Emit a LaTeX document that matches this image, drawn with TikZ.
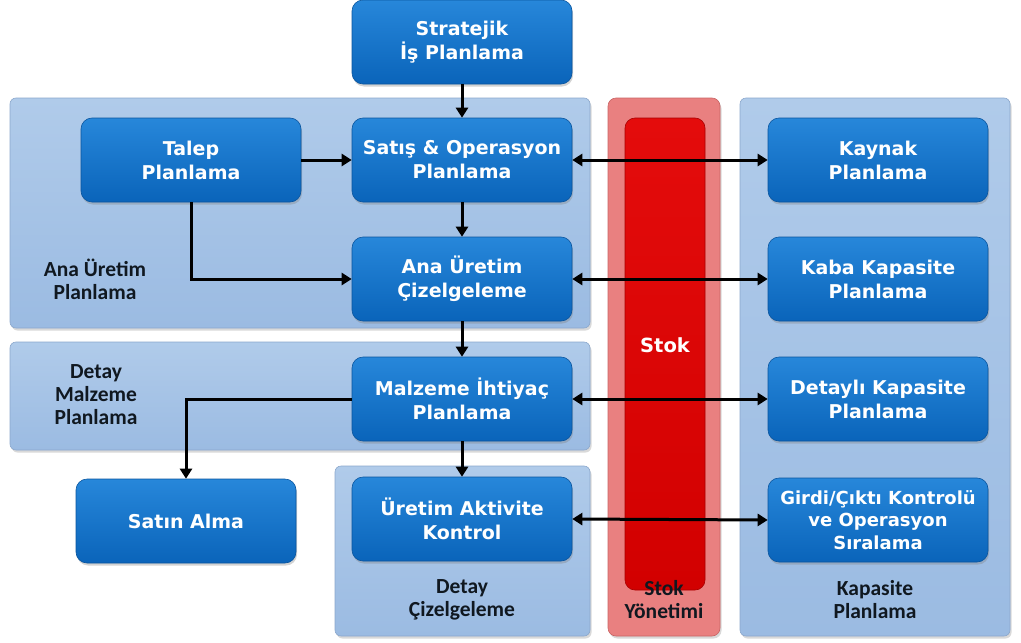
\documentclass[tikz,border=0pt]{standalone}
\usepackage{fontspec}
\setmainfont{DejaVu Sans}
\newfontfamily\lblfont{Carlito}
\usetikzlibrary{arrows.meta,shadows}

\definecolor{boxtop}{HTML}{2787DA}
\definecolor{boxbot}{HTML}{0A64BA}
\definecolor{boxedge}{HTML}{0A559E}
\definecolor{pantop}{HTML}{B0CBEA}
\definecolor{panbot}{HTML}{9BBBE2}
\definecolor{panedge}{HTML}{8BA7CC}
\definecolor{stokout}{HTML}{E98080}
\definecolor{stokedge}{HTML}{C86464}
\definecolor{stoktop}{HTML}{E40C0C}
\definecolor{stokbot}{HTML}{D20000}
\definecolor{lbltext}{HTML}{101820}

\begin{document}
\begin{tikzpicture}[x=1pt,y=-1pt,
  proc/.style={draw=boxedge, line width=0.6pt, rounded corners=11pt,
    top color=boxtop, bottom color=boxbot,
    minimum width=220pt, minimum height=84pt, align=center,
    text=white, font=\bfseries\fontsize{19}{24}\selectfont,
    drop shadow={shadow xshift=1pt, shadow yshift=-2.5pt, opacity=0.35}},
  panel/.style={draw=panedge, line width=0.6pt, rounded corners=6pt,
    top color=pantop, bottom color=panbot,
    drop shadow={shadow xshift=1.5pt, shadow yshift=-2.5pt, opacity=0.3}},
  grouplbl/.style={align=center, text=lbltext,
    font=\lblfont\bfseries\fontsize{21.5}{23}\selectfont},
  flow/.style={line width=3pt, -{Triangle[length=10pt,width=12pt]}},
  link/.style={line width=3pt, {Triangle[length=10pt,width=12pt]}-{Triangle[length=10pt,width=12pt]}}
]
\useasboundingbox (0,0) rectangle (1021,643);

% group panels
\path[panel] (10,98) rectangle (590,328);
\path[panel] (10,342) rectangle (590,450);
\path[panel] (335,466) rectangle (590,636);
\path[panel] (740,98) rectangle (1010,636);

% inventory column
\path[draw=stokedge, line width=0.6pt, fill=stokout, rounded corners=8pt,
  drop shadow={shadow xshift=1.5pt, shadow yshift=-2.5pt, opacity=0.3}]
  (608,98) rectangle (720,636);
\path[draw=stokbot!80!black, line width=0.6pt, top color=stoktop, bottom color=stokbot,
  rounded corners=10pt] (625,118) rectangle (705,590);
\node[text=white, font=\bfseries\fontsize{19.5}{22}\selectfont] (stok) at (665,345) {Stok};

% group labels
\node[grouplbl] (lblana) at (95,279) {Ana Üretim\\Planlama};
\node[grouplbl] (lbldetay) at (96,395) {Detay\\Malzeme\\Planlama};
\node[grouplbl] (lblciz) at (462,600) {Detay\\Çizelgeleme};
\node[grouplbl] (lblstok) at (664,600) {Stok\\Yönetimi};
\node[grouplbl] (lblkap) at (875,600) {Kapasite\\Planlama};

% process boxes
\node[proc] (strat) at (462,42) {Stratejik\\İş Planlama};
\node[proc] (talep) at (191,160) {Talep\\Planlama};
\node[proc] (sop) at (462,160) {Satış \& Operasyon\\Planlama};
\node[proc] (mps) at (462,279) {Ana Üretim\\Çizelgeleme};
\node[proc] (mrp) at (462,399) {Malzeme İhtiyaç\\Planlama};
\node[proc] (uak) at (462,519) {Üretim Aktivite\\Kontrol};
\node[proc] (satin) at (186,521) {Satın Alma};
\node[proc] (kaynak) at (878,160) {Kaynak\\Planlama};
\node[proc] (kaba) at (878,279) {Kaba Kapasite\\Planlama};
\node[proc] (detayli) at (878,399) {Detaylı Kapasite\\Planlama};
\node[proc, font=\bfseries\fontsize{18}{22.5}\selectfont] (girdi) at (878,520) {Girdi/Çıktı Kontrolü\\ve Operasyon\\Sıralama};

% flows
\draw[flow] (strat) -- (sop);
\draw[flow] (talep) -- (sop);
\draw[flow] (sop) -- (mps);
\draw[flow] (talep.south) |- (mps.west);
\draw[flow] (mps) -- (mrp);
\draw[flow] (mrp.west) -| (satin.north);
\draw[flow] (mrp) -- (uak);

% links to capacity planning
\draw[link] (sop.east) -- (kaynak.west);
\draw[link] (mps.east) -- (kaba.west);
\draw[link] (mrp.east) -- (detayli.west);
\draw[link] (uak.east) -- (girdi.west);
\end{tikzpicture}
\end{document}
